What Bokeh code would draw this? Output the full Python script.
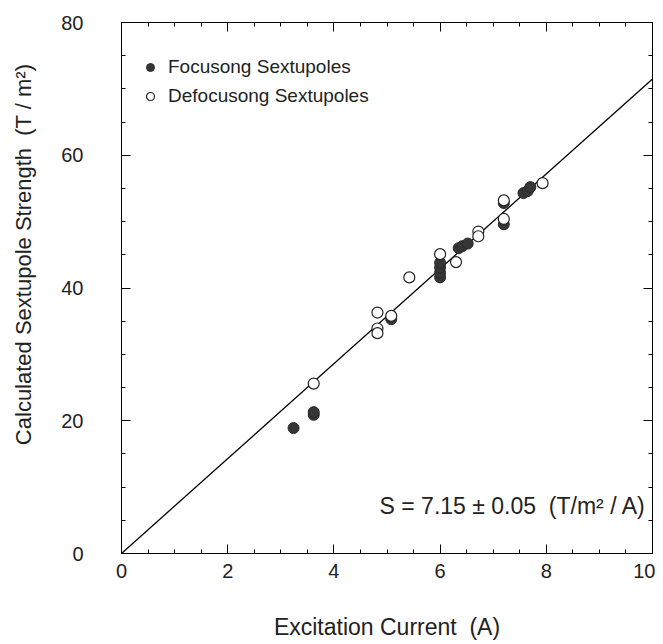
import math
from bokeh.plotting import figure
from bokeh.models import (Range1d, Label, Legend, LegendItem, LinearAxis,
                          SingleIntervalTicker)
from bokeh.embed import file_html
from bokeh.resources import INLINE

# ---- data ----
focus_x = [3.24, 3.62, 3.62, 5.08, 6.0, 6.0, 6.0, 6.0, 6.35, 6.42, 6.52, 7.2, 7.2, 7.57, 7.65, 7.7]
focus_y = [18.9, 20.9, 21.3, 35.3, 41.6, 42.3, 43.1, 43.8, 46.0, 46.3, 46.7, 49.6, 52.8, 54.3, 54.6, 55.2]
defocus_x = [3.62, 4.82, 4.82, 4.82, 5.08, 5.42, 6.0, 6.3, 6.72, 6.72, 7.2, 7.2, 7.93]
defocus_y = [25.6, 36.3, 33.9, 33.2, 35.8, 41.6, 45.1, 43.9, 48.5, 47.8, 53.2, 50.4, 55.8]
fit_x = [0, 10]
fit_y = [0, 71.5]
x_ticks_interval = 2
y_ticks_interval = 20

FONT = "Liberation Sans"
NB = "\u00a0"

p = figure(frame_width=531, frame_height=531,
           x_range=Range1d(0, 10), y_range=Range1d(0, 80),
           output_backend="svg", toolbar_location=None,
           min_border_left=121, min_border_right=3,
           min_border_top=22, min_border_bottom=88)
p.xgrid.visible = False
p.ygrid.visible = False
p.outline_line_color = "black"
p.outline_line_width = 1
p.background_fill_color = "white"
p.border_fill_color = "white"

def style_axis(ax, ticker, labels=True):
    ax.ticker = ticker
    ax.axis_line_color = "black"
    ax.major_tick_line_color = "black"
    ax.minor_tick_line_color = "black"
    ax.major_tick_in = 9
    ax.major_tick_out = 0
    ax.minor_tick_in = 4
    ax.minor_tick_out = 0
    if labels:
        ax.major_label_text_font = FONT
        ax.major_label_text_font_size = "20px"
        ax.major_label_text_color = "#222222"
    else:
        ax.major_label_text_font_size = "0px"
        ax.major_label_text_alpha = 0

xt = SingleIntervalTicker(interval=x_ticks_interval, num_minor_ticks=4)
yt = SingleIntervalTicker(interval=y_ticks_interval, num_minor_ticks=4)

style_axis(p.xaxis[0], xt)
style_axis(p.yaxis[0], yt)
p.xaxis[0].major_label_standoff = 10
p.yaxis[0].major_label_standoff = 38
p.xaxis[0].axis_label = "Excitation Current" + NB + NB + "(A)"
p.xaxis[0].axis_label_text_font = FONT
p.xaxis[0].axis_label_text_font_size = "23px"
p.xaxis[0].axis_label_text_font_style = "normal"
p.xaxis[0].axis_label_text_color = "#222222"
p.xaxis[0].axis_label_standoff = 33

# y label: leading padding shifts the visible text upward like the reference
p.yaxis[0].axis_label = NB * 11 + "Calculated Sextupole Strength" + NB + NB + "(T / m\u00b2)"
p.yaxis[0].axis_label_text_font = FONT
p.yaxis[0].axis_label_text_font_size = "22px"
p.yaxis[0].axis_label_text_font_style = "normal"
p.yaxis[0].axis_label_text_color = "#222222"
p.yaxis[0].axis_label_standoff = 22

top = LinearAxis()
style_axis(top, SingleIntervalTicker(interval=x_ticks_interval, num_minor_ticks=4), labels=False)
p.add_layout(top, "above")
right = LinearAxis()
style_axis(right, SingleIntervalTicker(interval=y_ticks_interval, num_minor_ticks=4), labels=False)
p.add_layout(right, "right")

# fit line
p.line(fit_x, fit_y, line_color="black", line_width=1.3)

# points
r_f = p.scatter(focus_x, focus_y, size=11, marker="circle",
                fill_color="#363636", line_color="#2a2a2a", line_width=1)
r_d = p.scatter(defocus_x, defocus_y, size=11, marker="circle",
                fill_color="white", line_color="#222222", line_width=1.2)

legend = Legend(items=[LegendItem(label="Focusong Sextupoles", renderers=[r_f]),
                       LegendItem(label="Defocusong Sextupoles", renderers=[r_d])],
                location=(19, 446), border_line_color=None,
                background_fill_alpha=0, label_text_font=FONT,
                label_text_font_size="19px", label_text_color="#222222",
                glyph_width=20, glyph_height=20, spacing=7, padding=0,
                margin=0, label_standoff=8, label_height=20)
p.add_layout(legend)

p.add_layout(Label(x=4.86, y=7.2,
                   text="S = 7.15 \u00b1 0.05" + NB + NB + "(T/m\u00b2 / A)",
                   text_font=FONT, text_font_size="23px", text_color="#222222",
                   text_baseline="alphabetic", text_align="left"))

open("out.html", "w").write(file_html(p, INLINE))
